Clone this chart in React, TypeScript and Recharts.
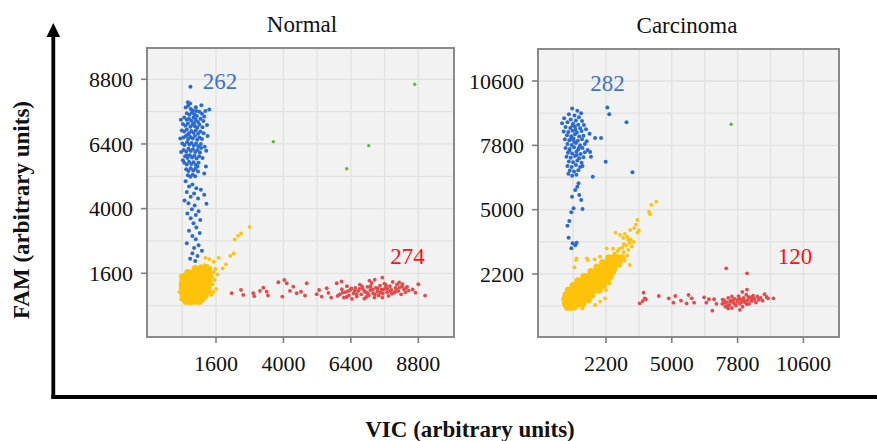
import { CartesianGrid, ReferenceArea, Scatter, ScatterChart, XAxis, YAxis } from 'recharts';

type Point = { x: number; y: number };
type Layer = { data: number[][]; color: string; r: number };

const serif = "'Liberation Serif', 'Times New Roman', serif";

const BLUE = '#2a6bd3';
const YELLOW = '#ffc20a';
const RED = '#e44a4a';
const GREEN = '#5fb83a';

// ---- Normal ----
const normalXTicks = [1600, 4000, 6400, 8800];
const normalYTicks = [1600, 4000, 6400, 8800];
const normalXGrid = [400, 1600, 2800, 4000, 5200, 6400, 7600, 8800];
const normalYGrid = [400, 1600, 2800, 4000, 5200, 6400, 7600, 8800];
const normalXDomain = [-856, 10071];
const normalYDomain = [-764, 9962];

const normalBlue = [
  [520, 7750], [610, 7820], [700, 7700], [780, 7640], [880, 7760], [560, 7540], [650, 7480], [740, 7560],
  [830, 7500], [920, 7440], [1010, 7600], [1100, 7520], [470, 7380], [560, 7300], [640, 7340], [720, 7260],
  [800, 7380], [880, 7300], [960, 7220], [1050, 7340], [1180, 7420], [420, 7140], [510, 7080], [600, 7160],
  [690, 7040], [770, 7120], [850, 7060], [930, 7000], [1010, 7110], [1120, 7020], [380, 6900], [470, 6860],
  [560, 6940], [640, 6800], [720, 6880], [800, 6820], [880, 6900], [960, 6780], [1040, 6860], [1160, 6800],
  [440, 6640], [530, 6700], [610, 6580], [690, 6660], [770, 6600], [850, 6700], [930, 6560], [1010, 6640],
  [1100, 6580], [400, 6420], [480, 6360], [570, 6460], [650, 6380], [730, 6440], [810, 6340], [890, 6420],
  [970, 6320], [1060, 6400], [1200, 6300], [450, 6180], [540, 6120], [620, 6220], [700, 6140], [780, 6200],
  [860, 6100], [940, 6180], [1030, 6080], [500, 5940], [590, 5880], [670, 5980], [750, 5900], [830, 5960],
  [910, 5860], [1000, 5940], [1120, 5880], [470, 5700], [560, 5640], [640, 5740], [720, 5660], [800, 5720],
  [880, 5620], [980, 5700], [540, 5460], [620, 5400], [700, 5500], [790, 5420], [870, 5480], [960, 5380],
  [1240, 5560], [600, 5240], [690, 5180], [770, 5260], [860, 5200],
  [350, 7300], [1280, 7100], [330, 6600], [1300, 6700], [360, 6100], [1250, 6150], [420, 5800], [1180, 5300],
  [900, 7620], [680, 7900], [1150, 7250], [600, 6750], [1070, 6250], [560, 5980], [940, 5560], [820, 7180],
  [690, 8520], [1220, 7620], [1360, 7680], [1080, 7840], [600, 7950],
  [520, 5020], [760, 4900], [640, 4820], [900, 4760], [1060, 4700], [560, 4620], [820, 4560], [1180, 4520],
  [700, 4440], [960, 4380], [480, 4300], [620, 4200], [1260, 4180], [840, 4120], [740, 3980], [980, 3900],
  [580, 3820], [880, 3760], [700, 3640], [1040, 3580], [800, 3460], [900, 3300], [640, 3180], [1020, 3100],
  [760, 2980], [880, 2860], [560, 2720], [980, 2640], [820, 2540], [1100, 2440], [760, 2340], [940, 2240],
  [680, 2140], [860, 2060],
];

const normalYellowCore = [
  [860, 1770], [1020, 1750], [1180, 1770], [1320, 1740],
  [600, 1630], [760, 1610], [920, 1640], [1080, 1620], [1240, 1600], [1350, 1630],
  [470, 1490], [630, 1470], [790, 1500], [950, 1470], [1110, 1490], [1270, 1480], [1360, 1500],
  [420, 1350], [580, 1330], [740, 1350], [900, 1320], [1060, 1340], [1220, 1330], [1350, 1350],
  [400, 1200], [560, 1190], [720, 1210], [880, 1180], [1040, 1200], [1200, 1190], [1340, 1210],
  [400, 1060], [560, 1050], [720, 1070], [880, 1040], [1040, 1060], [1200, 1050], [1320, 1070],
  [410, 920], [570, 910], [730, 930], [890, 900], [1050, 920], [1210, 910], [1300, 930],
  [430, 780], [590, 770], [750, 790], [910, 760], [1070, 780], [1210, 770],
  [470, 650], [630, 640], [790, 660], [950, 630], [1100, 650],
  [540, 560], [700, 550], [860, 570], [1000, 560],
];

const normalYellow = [
  [2800, 3320], [2490, 3077], [2383, 2990], [2265, 2856], [2230, 2339], [2110, 2250], [1956, 1932], [1840, 1785],
  [1696, 2176], [1518, 2028], [1362, 2128], [1220, 2176], [1280, 1880], [1575, 1760], [1458, 1474], [1554, 1352],
  [1483, 1194], [1600, 1020], [1433, 800], [1500, 910], [1397, 1800], [1650, 1560], [1180, 1900], [1050, 1870],
  [360, 640], [300, 900], [340, 1500], [1520, 1640],
];

const normalRed = [
  [6000, 820], [6080, 1010], [6150, 700], [6200, 900], [6260, 1120], [6330, 780], [6380, 980], [6440, 650],
  [6500, 860], [6560, 1060], [6610, 740], [6660, 940], [6720, 1180], [6770, 820], [6830, 1020], [6880, 660],
  [6930, 900], [6990, 1100], [7040, 780], [7090, 980], [7140, 1240], [7190, 860], [7240, 700], [7290, 1060],
  [7340, 920], [7390, 780], [7440, 1140], [7490, 990], [7540, 850], [7590, 1220], [7640, 1060], [7690, 900],
  [7740, 760], [7790, 1120], [7840, 980], [7890, 1280], [7940, 880], [7990, 1060], [8040, 1180], [8090, 940],
  [8140, 1080], [8190, 820], [8240, 1200], [8290, 1010], [8340, 900], [8400, 1100], [8460, 960], [6100, 880],
  [6300, 940], [6420, 1040], [6600, 820], [6700, 1020], [6880, 940], [7000, 860], [7180, 1000], [7360, 1040],
  [7520, 700], [7700, 1020], [7860, 840], [8060, 980], [8220, 1120], [8360, 1050], [6250, 720], [6950, 720],
  [7650, 1160], [7450, 880], [6540, 960], [7100, 1120], [7980, 920], [8120, 1260], [6800, 1110], [7250, 820],
  [7560, 1000], [7800, 940],
  [2159, 861], [2490, 983], [2572, 799], [2928, 861], [2960, 750], [3166, 946], [3284, 1068], [3405, 920],
  [3450, 780], [3818, 1268], [4031, 1353], [4117, 1231], [3960, 736], [4234, 946], [4352, 1105], [4472, 861],
  [4626, 920], [4829, 1231], [4768, 773], [5185, 824], [5270, 980], [5363, 736], [5541, 1046], [5600, 870],
  [5700, 700], [5897, 1231], [6070, 1300], [5930, 760], [8802, 1194], [9040, 773], [7520, 1440], [7060, 1330],
  [7250, 1360], [8600, 1000], [8700, 880],
];

const normalGreen = [[3640, 6486], [7036, 6338], [6253, 5478], [8673, 8617]];

// ---- Carcinoma ----
const carcXTicks = [2200, 5000, 7800, 10600];
const carcYTicks = [2200, 5000, 7800, 10600];
const carcXGrid = [800, 2200, 3600, 5000, 6400, 7800, 9200, 10600];
const carcYGrid = [800, 2200, 3600, 5000, 6400, 7800, 9200, 10600];
const carcXDomain = [-693, 12115];
const carcYDomain = [-542, 11993];

const carcBlue = [
  [760, 9400], [980, 9300], [1140, 9200], [620, 9150], [860, 9100], [1050, 9020], [420, 8980], [700, 8920],
  [920, 8880], [1180, 8860], [330, 8760], [560, 8800], [800, 8740], [1020, 8700], [1260, 8680], [480, 8600],
  [680, 8560], [880, 8620], [1100, 8540], [1350, 8500], [400, 8400], [600, 8380], [780, 8440], [960, 8360],
  [1160, 8420], [540, 8240], [720, 8200], [880, 8280], [1060, 8180], [1240, 8220], [1500, 8300], [450, 8060],
  [640, 8020], [820, 8100], [1000, 8000], [1180, 8060], [1380, 7980], [560, 7860], [740, 7820], [920, 7900],
  [1100, 7800], [1300, 7860], [480, 7680], [660, 7640], [840, 7720], [1020, 7620], [1200, 7680], [1420, 7600],
  [580, 7480], [760, 7440], [940, 7520], [1120, 7420], [1300, 7500], [520, 7300], [700, 7260], [880, 7340],
  [1060, 7240], [1240, 7280], [620, 7100], [800, 7060], [980, 7140], [1160, 7040], [560, 6900], [740, 6860],
  [920, 6940], [1100, 6860], [660, 6700], [840, 6660], [1020, 6720], [760, 6480], [940, 6520], [600, 6560],
  [1200, 6900], [900, 8480], [700, 8060], [1050, 7700], [840, 7960], [640, 7580], [960, 7380], [780, 8660],
  [2255, 9442], [2340, 9155], [3073, 8806], [1736, 8123], [1990, 8123], [2187, 7091], [3326, 6629], [1639, 6437],
  [1525, 7513], [1560, 7308], [1032, 6150], [893, 5858], [1061, 5640], [1146, 5423], [821, 5061], [724, 4887],
  [1201, 5031], [640, 4508], [610, 3781], [779, 3537], [893, 3450], [724, 3319], [950, 3560], [754, 5566],
  [980, 6000], [560, 4300],
];

const carcYellowCore = [
  [550, 760], [700, 750], [850, 770],
  [480, 900], [660, 890], [840, 910], [1020, 900], [1200, 890],
  [450, 1100], [630, 1090], [810, 1110], [990, 1090], [1170, 1100], [1350, 1110], [1450, 1080],
  [500, 1300], [680, 1290], [860, 1310], [1040, 1290], [1220, 1300], [1400, 1310], [1600, 1290],
  [600, 1500], [780, 1490], [960, 1510], [1140, 1490], [1320, 1500], [1500, 1510], [1680, 1490], [1900, 1500],
  [800, 1700], [980, 1690], [1160, 1710], [1340, 1690], [1520, 1700], [1700, 1710], [1880, 1690], [2080, 1700],
  [1000, 1900], [1180, 1890], [1360, 1910], [1540, 1890], [1720, 1900], [1900, 1910], [2080, 1890], [2240, 1900],
  [1260, 2100], [1440, 2090], [1620, 2110], [1800, 2090], [1980, 2100], [2160, 2110], [2380, 2090],
  [1560, 2300], [1740, 2290], [1920, 2310], [2100, 2290], [2280, 2300], [2480, 2310],
  [1820, 2500], [2000, 2490], [2180, 2510], [2360, 2490], [2560, 2500],
  [2060, 2700], [2240, 2690], [2420, 2710], [2620, 2700], [2750, 2690],
  [2320, 2900], [2500, 2890], [2680, 2910], [2880, 2900],
];

const carcYellow = [
  [4338, 5349], [4127, 5205], [4026, 4913], [4080, 4800], [3537, 4552], [3480, 4350], [3400, 4200], [3600, 4100],
  [3230, 4116], [3540, 4000], [2609, 3999], [2800, 3900], [2930, 3770], [3000, 3950], [3100, 3820], [3250, 3700],
  [3380, 3600], [3200, 3550], [3050, 3450], [3300, 3400], [2900, 3350], [3150, 3250], [2700, 3200], [2950, 3150],
  [2230, 3319], [2500, 3300], [1947, 2953], [1428, 2810], [922, 2810], [863, 2492], [3212, 2592], [2990, 2780],
  [2580, 2374], [2158, 1142], [1950, 1000], [1736, 850], [1386, 2884], [950, 2880], [1715, 2840], [3100, 3000],
  [2800, 2550], [2200, 1500], [2350, 1800], [1200, 700], [2560, 3100], [2760, 3300], [2960, 3500], [3150, 3700],
];

const carcRed = [
  [7150, 900], [7220, 1060], [7280, 780], [7340, 980], [7400, 1160], [7450, 860], [7510, 1040], [7560, 720],
  [7620, 940], [7680, 1120], [7730, 820], [7790, 1000], [7840, 1240], [7900, 900], [7950, 1080], [8010, 780],
  [8060, 1160], [8120, 960], [8170, 1300], [8230, 1060], [8290, 900], [8340, 1180], [8400, 1020], [8460, 1260],
  [8520, 1100], [8580, 960], [8640, 1220], [8700, 1080], [8780, 1160], [8860, 1040], [7250, 940], [7480, 1000],
  [7700, 880], [7880, 1140], [8080, 1040], [8260, 1200], [8480, 1140], [7600, 1060], [7980, 980], [8200, 880],
  [7380, 820], [7820, 1080], [8380, 1120], [7160, 1080], [7560, 1220], [8000, 1420], [8200, 1520], [7400, 700],
  [7900, 640],
  [3634, 924], [3760, 1020], [3845, 1142], [3802, 1386], [3900, 1100], [4448, 1242], [4870, 1142], [5068, 950],
  [5150, 1242], [5392, 1037], [5630, 920], [5713, 1285], [5850, 1142], [5950, 950], [6375, 1185], [6470, 950],
  [6580, 1100], [6725, 602], [6800, 1100], [6900, 900], [7315, 2448], [8201, 2230], [9327, 1142], [9030, 1200],
  [9100, 1142], [8950, 1320],
];

const carcGreen = [[7526, 8720]];

const toPoints = (list: number[][]): Point[] => list.map(([x, y]) => ({ x, y }));

const YTick = (p: any) => (
  <text x={p.x} y={p.y} dy="0.35em" textAnchor="end" fontFamily={serif} fontSize={22} fill="#111">
    {p.payload.value}
  </text>
);

const XTick = (p: any) => (
  <text x={p.x} y={p.y} dy="0.71em" textAnchor="middle" fontFamily={serif} fontSize={22} fill="#111">
    {p.payload.value}
  </text>
);

type PanelProps = {
  left: number;
  width: number;
  axisWidth: number;
  top: number;
  xDomain: number[];
  yDomain: number[];
  xTicks: number[];
  yTicks: number[];
  xGrid: number[];
  yGrid: number[];
  layers: Layer[];
};

function Panel({ left, width, axisWidth, top, xDomain, yDomain, xTicks, yTicks, xGrid, yGrid, layers }: PanelProps) {
  const tickLine = { stroke: '#7f7f7f', strokeWidth: 1.6 };
  return (
    <div style={{ position: 'absolute', left, top: 0 }}>
      <ScatterChart width={width} height={380} margin={{ top, right: 6, bottom: 0, left: 0 }}>
        <CartesianGrid
          fill="#f2f2f2"
          fillOpacity={1}
          stroke="#e1e1e1"
          strokeWidth={1.3}
          verticalValues={xGrid}
          horizontalValues={yGrid}
        />
        <XAxis
          type="number"
          dataKey="x"
          domain={xDomain}
          ticks={xTicks}
          interval={0}
          allowDataOverflow
          height={43}
          axisLine={false}
          tickSize={6}
          tickMargin={12}
          tickLine={tickLine}
          tick={XTick}
        />
        <YAxis
          type="number"
          dataKey="y"
          domain={yDomain}
          ticks={yTicks}
          interval={0}
          allowDataOverflow
          width={axisWidth}
          axisLine={false}
          tickSize={6}
          tickMargin={8}
          tickLine={tickLine}
          tick={YTick}
        />
        {layers.map((layer, i) => (
          <Scatter
            key={i}
            data={toPoints(layer.data)}
            isAnimationActive={false}
            shape={(p: any) => <circle cx={p.cx} cy={p.cy} r={layer.r} fill={layer.color} />}
          />
        ))}
        <ReferenceArea
          x1={xDomain[0]}
          x2={xDomain[1]}
          y1={yDomain[0]}
          y2={yDomain[1]}
          fill="none"
          fillOpacity={0}
          stroke="#8a8a8a"
          strokeWidth={2}
        />
      </ScatterChart>
    </div>
  );
}

export default function App() {
  return (
    <div style={{ position: 'absolute', left: 0, top: 0, width: 877, height: 441, background: '#fff', overflow: 'hidden' }}>
      <Panel
        left={0}
        width={460}
        axisWidth={147}
        top={48}
        xDomain={normalXDomain}
        yDomain={normalYDomain}
        xTicks={normalXTicks}
        yTicks={normalYTicks}
        xGrid={normalXGrid}
        yGrid={normalYGrid}
        layers={[
          { data: normalYellowCore, color: YELLOW, r: 3.6 },
          { data: normalYellow, color: YELLOW, r: 1.9 },
          { data: normalRed, color: RED, r: 1.9 },
          { data: normalBlue, color: BLUE, r: 2 },
          { data: normalGreen, color: GREEN, r: 1.7 },
        ]}
      />
      <Panel
        left={460}
        width={385}
        axisWidth={78}
        top={49}
        xDomain={carcXDomain}
        yDomain={carcYDomain}
        xTicks={carcXTicks}
        yTicks={carcYTicks}
        xGrid={carcXGrid}
        yGrid={carcYGrid}
        layers={[
          { data: carcYellowCore, color: YELLOW, r: 3.6 },
          { data: carcYellow, color: YELLOW, r: 1.9 },
          { data: carcRed, color: RED, r: 1.9 },
          { data: carcBlue, color: BLUE, r: 2 },
          { data: carcGreen, color: GREEN, r: 1.7 },
        ]}
      />
      <svg width={877} height={441} style={{ position: 'absolute', left: 0, top: 0, pointerEvents: 'none' }}>
        <line x1={53.3} y1={34} x2={53.3} y2={398.8} stroke="#000" strokeWidth={3.8} />
        <polygon points="53.3,23 46.5,37 60.1,37" fill="#000" />
        <line x1={51.4} y1={397} x2={877} y2={397} stroke="#000" strokeWidth={3.8} />
        <text x={302} y={32} textAnchor="middle" fontFamily={serif} fontSize={23} fill="#111">Normal</text>
        <text x={687} y={33} textAnchor="middle" fontFamily={serif} fontSize={23} fill="#111">Carcinoma</text>
        <text x={220} y={89} textAnchor="middle" fontFamily={serif} fontSize={23} fill="#3d72c9">262</text>
        <text x={407.5} y={264} textAnchor="middle" fontFamily={serif} fontSize={23} fill="#ff1010">274</text>
        <text x={607.5} y={91} textAnchor="middle" fontFamily={serif} fontSize={23} fill="#3d72c9">282</text>
        <text x={795} y={264} textAnchor="middle" fontFamily={serif} fontSize={23} fill="#ff1010">120</text>
        <text
          transform="translate(29,210) rotate(-90)"
          textAnchor="middle"
          fontFamily={serif}
          fontWeight="bold"
          fontSize={23}
          fill="#111"
        >
          FAM (arbitrary units)
        </text>
        <text x={470} y={437} textAnchor="middle" fontFamily={serif} fontWeight="bold" fontSize={23} fill="#111">
          VIC (arbitrary units)
        </text>
      </svg>
    </div>
  );
}
